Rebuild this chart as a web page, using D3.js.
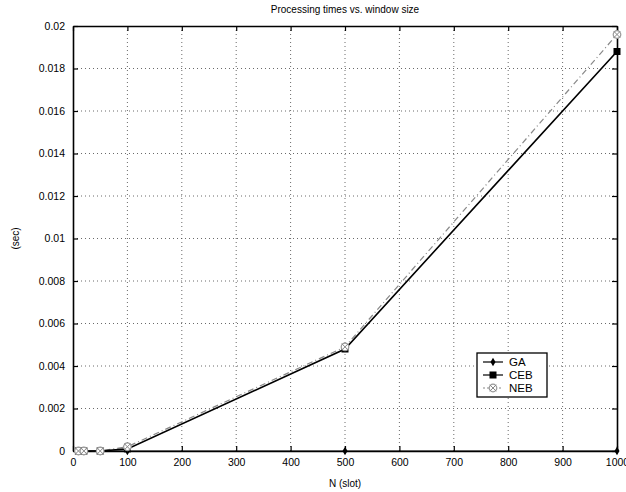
<!DOCTYPE html>
<html>
<head>
<meta charset="utf-8">
<script src="https://cdn.jsdelivr.net/npm/d3@7"></script>
<style>
  body { margin: 0; background: #fff; }
  svg { font-family: "Liberation Sans", Arial, sans-serif; }
</style>
</head>
<body>
<svg id="chart" width="626" height="492"></svg>
<script>
// window sizes N (slot)
const windowSizes = [10, 20, 50, 100, 500, 1000];
// processing times (sec)
const gaTimes  = [0, 0, 0, 0, 0, 0];
const cebTimes = [0, 0, 0, 0.0001, 0.0048, 0.0188];
const nebTimes = [0, 0, 0, 0.0002, 0.0049, 0.0196];

const xTicks = [0, 100, 200, 300, 400, 500, 600, 700, 800, 900, 1000];
const yTicks = [0, 0.002, 0.004, 0.006, 0.008, 0.01, 0.012, 0.014, 0.016, 0.018, 0.02];
const legendNames = ["GA", "CEB", "NEB"];

const margin = {left: 73, right: 9, top: 26, bottom: 41};
const W = 626, H = 492;
const svg = d3.select("#chart");

const x = d3.scaleLinear().domain([0, 1000]).range([margin.left, W - margin.right]);
const y = d3.scaleLinear().domain([0, 0.02]).range([H - margin.bottom, margin.top]);

// grid
const grid = svg.append("g");
grid.selectAll("line.gx").data(xTicks.slice(1, -1)).enter().append("line")
  .attr("x1", d => x(d)).attr("x2", d => x(d))
  .attr("y1", y(0)).attr("y2", y(0.02))
  .attr("stroke", "#444").attr("stroke-width", 0.8).attr("stroke-dasharray", "1,3");
grid.selectAll("line.gy").data(yTicks.slice(1, -1)).enter().append("line")
  .attr("y1", d => y(d)).attr("y2", d => y(d))
  .attr("x1", x(0)).attr("x2", x(1000))
  .attr("stroke", "#444").attr("stroke-width", 0.8).attr("stroke-dasharray", "1,3");

// axes (matlab style: ticks inside, box all round)
const fmtY = d => d === 0 ? "0" : String(+d.toFixed(3));
const axBottom = svg.append("g").attr("transform", `translate(0,${y(0)})`)
  .call(d3.axisBottom(x).tickValues(xTicks).tickFormat(d => String(d)).tickSizeInner(-5).tickSizeOuter(0).tickPadding(8));
const axLeft = svg.append("g").attr("transform", `translate(${x(0)},0)`)
  .call(d3.axisLeft(y).tickValues(yTicks).tickFormat(fmtY).tickSizeInner(-5).tickSizeOuter(0).tickPadding(8));
const axTop = svg.append("g").attr("transform", `translate(0,${y(0.02)})`)
  .call(d3.axisTop(x).tickValues(xTicks).tickFormat("").tickSizeInner(-5).tickSizeOuter(0));
const axRight = svg.append("g").attr("transform", `translate(${x(1000)},0)`)
  .call(d3.axisRight(y).tickValues(yTicks).tickFormat("").tickSizeInner(-5).tickSizeOuter(0));
[axBottom, axLeft, axTop, axRight].forEach(g => {
  g.select(".domain").attr("stroke", "#000").attr("stroke-width", 1.6);
  g.selectAll(".tick line").attr("stroke", "#000").attr("stroke-width", 1.2);
  g.selectAll("text").attr("font-size", 10.5).attr("fill", "#000")
    .attr("font-family", "'Liberation Sans', Arial, sans-serif");
});

const line = d3.line().x(d => x(d[0])).y(d => y(d[1]));
const zip = vals => windowSizes.map((n, i) => [n, vals[i]]);

// NEB: grey dash-dot
svg.append("path").datum(zip(nebTimes)).attr("d", line)
  .attr("fill", "none").attr("stroke", "#888").attr("stroke-width", 1.2)
  .attr("stroke-dasharray", "6,3,1,3");
// CEB: solid black
svg.append("path").datum(zip(cebTimes)).attr("d", line)
  .attr("fill", "none").attr("stroke", "#000").attr("stroke-width", 1.6);
// GA: solid black along axis
svg.append("path").datum(zip(gaTimes)).attr("d", line)
  .attr("fill", "none").attr("stroke", "#000").attr("stroke-width", 1.2);

function nebMarker(g) {
  g.append("circle").attr("r", 3.8).attr("fill", "#fff").attr("stroke", "#999").attr("stroke-width", 1.2);
  g.append("path").attr("d", d3.symbol().type(d3.symbolTimes).size(30)()).attr("stroke", "#888").attr("stroke-width", 1);
}
function gaMarker(g) {
  g.append("path").attr("d", d3.symbol().type(d3.symbolDiamond).size(22)()).attr("fill", "#000");
}
function cebMarker(g) {
  g.append("rect").attr("x", -3.5).attr("y", -3.5).attr("width", 7).attr("height", 7).attr("fill", "#000");
}

svg.selectAll("g.ga").data(zip(gaTimes)).enter().append("g")
  .attr("transform", d => `translate(${x(d[0])},${y(d[1])})`).each(function () { gaMarker(d3.select(this)); });
svg.selectAll("g.ceb").data(zip(cebTimes)).enter().append("g")
  .attr("transform", d => `translate(${x(d[0])},${y(d[1])})`).each(function () { cebMarker(d3.select(this)); });
svg.selectAll("g.neb").data(zip(nebTimes)).enter().append("g")
  .attr("transform", d => `translate(${x(d[0])},${y(d[1])})`).each(function () { nebMarker(d3.select(this)); });

// legend
const lg = svg.append("g").attr("transform", "translate(477,353)");
lg.append("rect").attr("width", 70).attr("height", 44).attr("fill", "#fff").attr("stroke", "#000").attr("stroke-width", 1.3);
const markers = [gaMarker, cebMarker, nebMarker];
legendNames.forEach((name, i) => {
  const row = lg.append("g").attr("transform", `translate(0,${9 + i * 13})`);
  row.append("line").attr("x1", 6).attr("x2", 26).attr("stroke", i === 2 ? "#888" : "#000")
    .attr("stroke-width", 1.2).attr("stroke-dasharray", i === 2 ? "2,2" : null);
  const m = row.append("g").attr("transform", "translate(16,0)");
  markers[i](m);
  row.append("text").attr("x", 32).attr("y", 4).attr("font-size", 11.5).text(name);
});

// labels
svg.append("text").attr("x", (x(0) + x(1000)) / 2).attr("y", 13).attr("text-anchor", "middle")
  .attr("font-size", 10).text("Processing times vs. window size");
svg.append("text").attr("x", (x(0) + x(1000)) / 2).attr("y", 487).attr("text-anchor", "middle")
  .attr("font-size", 10).text("N (slot)");
svg.append("text").attr("transform", `translate(19,${(y(0) + y(0.02)) / 2}) rotate(-90)`)
  .attr("text-anchor", "middle").attr("font-size", 10).text("(sec)");
</script>
</body>
</html>
